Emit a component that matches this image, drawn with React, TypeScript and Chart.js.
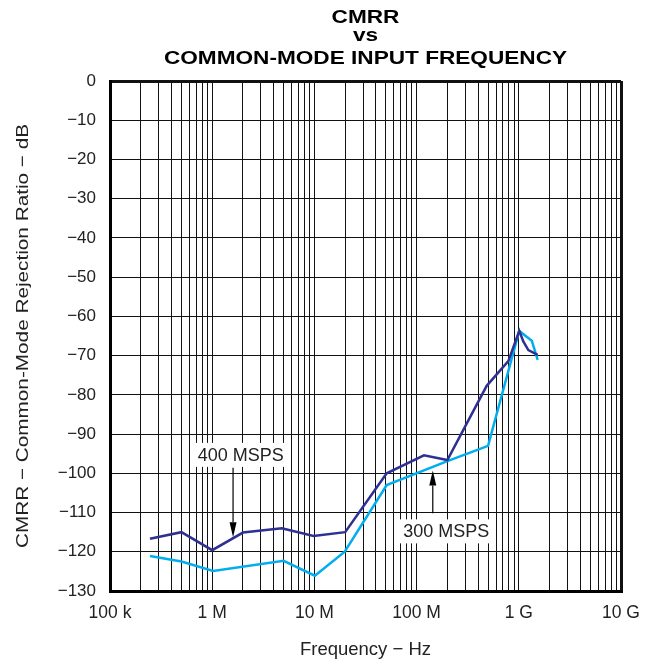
import React, { useEffect, useRef } from "react";
import { Chart, registerables } from "chart.js";

Chart.register(...registerables);

// ---------- data ----------
const titleLines = ["CMRR", "vs", "COMMON-MODE INPUT FREQUENCY"];
const xAxisTitle = "Frequency \u2212 Hz";
const yAxisTitle = "CMRR \u2212 Common-Mode Rejection Ratio \u2212 dB";

const xDecades = [1e5, 1e6, 1e7, 1e8, 1e9, 1e10];
const xTickLabels = ["100 k", "1 M", "10 M", "100 M", "1 G", "10 G"];
const yTicks = [0, -10, -20, -30, -40, -50, -60, -70, -80, -90, -100, -110, -120, -130];

const seriesNames = ["400 MSPS", "300 MSPS"];

const freq400 = [2.46e5, 5.0e5, 1.0e6, 2.0e6, 4.8e6, 9.8e6, 2.0e7, 5.1e7, 1.18e8, 2.0e8, 4.85e8, 7.9e8, 1.01e9, 1.107e9, 1.24e9, 1.53e9];
const db400 = [-116.7, -115.0, -119.6, -115.1, -114.0, -116.0, -115.0, -100.0, -95.4, -96.6, -77.7, -71.4, -63.7, -66.4, -68.6, -69.8];

const freq300 = [2.46e5, 5.0e5, 1.02e6, 5.0e6, 1.01e7, 1.98e7, 5.1e7, 2.0e8, 5.0e8, 1.01e9, 1.34e9, 1.53e9];
const db300 = [-121.1, -122.5, -124.9, -122.3, -126.1, -120.0, -103.0, -96.9, -93.0, -63.7, -66.2, -71.1];

// annotation: label text, label centre (freq, dB), arrow tail (freq, dB), arrow tip (freq, dB)
const annoText = ["400 MSPS", "300 MSPS"];
const annoLabelX = [1.9e6, 1.95e8];
const annoLabelY = [-95.3, -114.8];
const annoArrowX = [1.6e6, 1.44e8];
const annoArrowFromY = [-98.6, -110.2];
const annoArrowToY = [-116.3, -99.3];

const colors = ["#2e3192", "#00aeef"];

const FONT = '"Liberation Sans", Arial, Helvetica, sans-serif';

const titlePlugin = {
  id: "stretchedTitle",
  afterDraw(chart: any) {
    const { ctx, chartArea } = chart;
    const cx = (chartArea.left + chartArea.right) / 2;
    const baselines = [22.5, 41, 63.5];
    ctx.save();
    ctx.fillStyle = "#000";
    ctx.font = `bold 19px ${FONT}`;
    ctx.textAlign = "center";
    ctx.textBaseline = "alphabetic";
    titleLines.forEach((t, i) => {
      ctx.save();
      ctx.translate(cx, baselines[i]);
      ctx.scale(1.19, 1);
      ctx.fillText(t, 0, 0);
      ctx.restore();
    });

    // rotated y-axis title (slightly stretched along its length, like the reference)
    const cy = (chartArea.top + chartArea.bottom) / 2;
    ctx.save();
    ctx.fillStyle = "#222";
    ctx.font = `17px ${FONT}`;
    ctx.textBaseline = "middle";
    ctx.translate(23, cy);
    ctx.rotate(-Math.PI / 2);
    ctx.scale(1.22, 1);
    ctx.fillText(yAxisTitle, 0, 0);
    ctx.restore();
    ctx.restore();
  },
};

const annoPlugin = {
  id: "annotations",
  afterDatasetsDraw(chart: any) {
    const { ctx } = chart;
    const xs = chart.scales.x;
    const ys = chart.scales.y;
    ctx.save();
    ctx.font = `18px ${FONT}`;
    ctx.textAlign = "center";
    ctx.textBaseline = "middle";
    annoText.forEach((t, i) => {
      const lx = xs.getPixelForValue(annoLabelX[i]);
      const ly = ys.getPixelForValue(annoLabelY[i]);
      const w = ctx.measureText(t).width + 10;
      const h = 24;
      ctx.fillStyle = "#fff";
      ctx.fillRect(lx - w / 2, ly - h / 2, w, h);
      ctx.fillStyle = "#222";
      ctx.fillText(t, lx, ly + 1);

      const ax = xs.getPixelForValue(annoArrowX[i]);
      const ay0 = ys.getPixelForValue(annoArrowFromY[i]);
      const ay1 = ys.getPixelForValue(annoArrowToY[i]);
      const dir = ay1 > ay0 ? 1 : -1;
      const headLen = 15;
      ctx.strokeStyle = "#000";
      ctx.lineWidth = 1.2;
      ctx.beginPath();
      ctx.moveTo(ax, ay0);
      ctx.lineTo(ax, ay1 - dir * headLen);
      ctx.stroke();
      ctx.fillStyle = "#000";
      ctx.beginPath();
      ctx.moveTo(ax, ay1);
      ctx.lineTo(ax - 3.5, ay1 - dir * headLen);
      ctx.lineTo(ax + 3.5, ay1 - dir * headLen);
      ctx.closePath();
      ctx.fill();
    });
    ctx.restore();
  },
};

export default function App() {
  const ref = useRef<HTMLCanvasElement | null>(null);

  useEffect(() => {
    if (!ref.current) return;
    const edgeX = (c: any) =>
      c.tick && (c.tick.value === xDecades[0] || c.tick.value === xDecades[xDecades.length - 1]) ? 3 : 1;
    const edgeY = (c: any) =>
      c.tick && (c.tick.value === yTicks[0] || c.tick.value === yTicks[yTicks.length - 1]) ? 3 : 1;

    const chart = new Chart(ref.current, {
      type: "line",
      data: {
        datasets: [
          {
            label: seriesNames[0],
            data: freq400.map((f, i) => ({ x: f, y: db400[i] })),
            borderColor: colors[0],
            borderWidth: 2.5,
            pointRadius: 0,
            tension: 0,
            fill: false,
          },
          {
            label: seriesNames[1],
            data: freq300.map((f, i) => ({ x: f, y: db300[i] })),
            borderColor: colors[1],
            borderWidth: 2.5,
            pointRadius: 0,
            tension: 0,
            fill: false,
          },
        ],
      },
      options: {
        animation: false,
        responsive: true,
        maintainAspectRatio: false,
        layout: { padding: { top: 81, right: 31, bottom: 0, left: 0 } },
        plugins: {
          legend: { display: false },
          tooltip: { enabled: false },
          title: { display: false },
        },
        scales: {
          x: {
            type: "logarithmic",
            min: xDecades[0],
            max: xDecades[xDecades.length - 1],
            afterBuildTicks: (scale: any) => {
              const t: { value: number }[] = [];
              for (let i = 0; i < xDecades.length - 1; i++) {
                for (let m = 1; m <= 9; m++) t.push({ value: m * xDecades[i] });
              }
              t.push({ value: xDecades[xDecades.length - 1] });
              scale.ticks = t;
            },
            afterFit: (scale: any) => {
              scale.height = 73;
            },
            ticks: {
              autoSkip: false,
              maxRotation: 0,
              padding: 12,
              color: "#222",
              font: { family: FONT, size: 17.5 },
              callback: (v: any) => {
                const i = xDecades.indexOf(Number(v));
                return i >= 0 ? xTickLabels[i] : "";
              },
            },
            grid: { color: "#111", lineWidth: edgeX, drawTicks: false },
            border: { color: "#000", width: 3 },
            title: {
              display: true,
              text: xAxisTitle,
              color: "#222",
              font: { family: FONT, size: 18.5 },
              padding: { top: 0, bottom: 3 },
            },
          },
          y: {
            type: "linear",
            min: yTicks[yTicks.length - 1],
            max: yTicks[0],
            afterBuildTicks: (scale: any) => {
              scale.ticks = yTicks.map((v) => ({ value: v }));
            },
            afterFit: (scale: any) => {
              scale.width = 110;
            },
            ticks: {
              padding: 14,
              color: "#222",
              font: { family: FONT, size: 17 },
              callback: (v: any) => String(v).replace("-", "\u2212"),
            },
            grid: { color: "#111", lineWidth: edgeY, drawTicks: false },
            border: { color: "#000", width: 3 },
            title: { display: false },
          },
        },
      },
      plugins: [titlePlugin, annoPlugin],
    } as any);
    return () => chart.destroy();
  }, []);

  return (
    <div style={{ position: "absolute", left: 0, top: 0, width: 652, height: 664, background: "#fff" }}>
      <canvas ref={ref} />
    </div>
  );
}
